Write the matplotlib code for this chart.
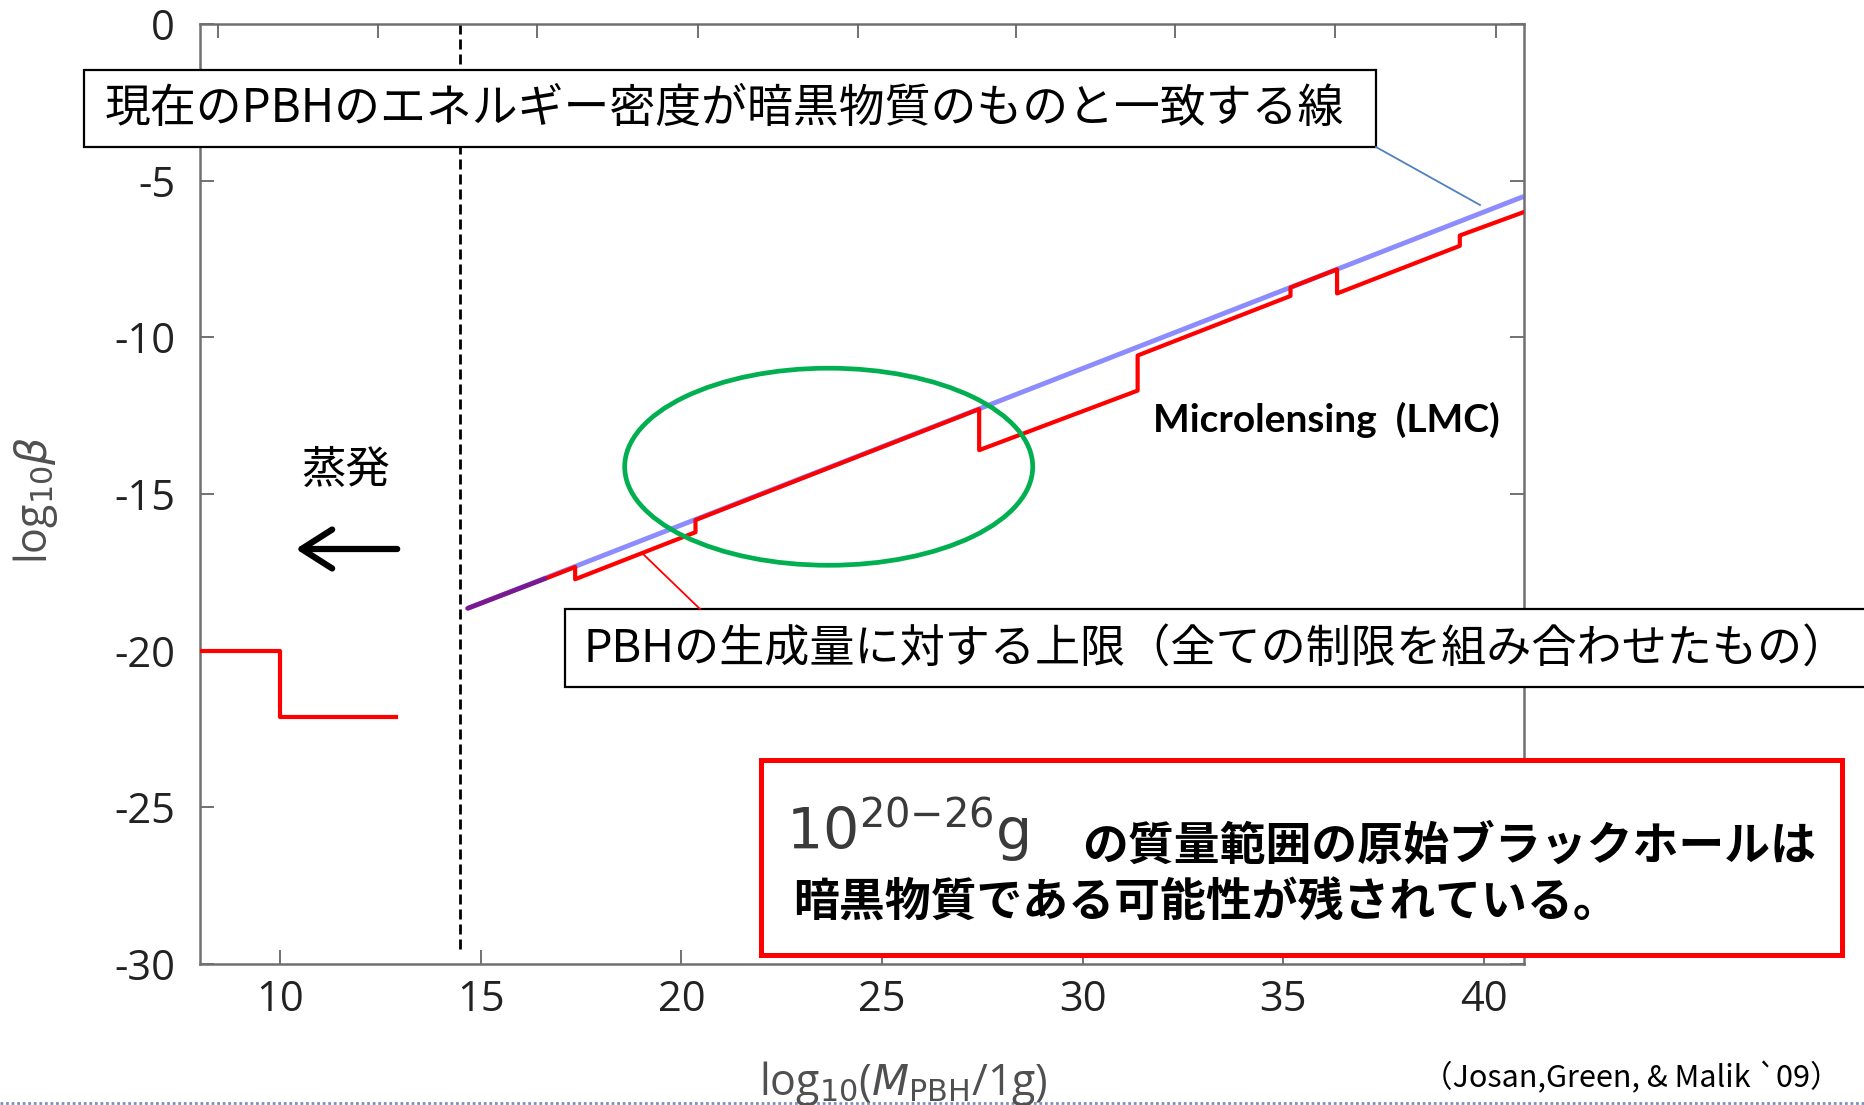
import matplotlib
matplotlib.use("Agg")
import matplotlib.pyplot as plt
from matplotlib.patches import Rectangle, Ellipse, FancyArrowPatch
from matplotlib.lines import Line2D

W, H = 1864, 1105
JP = ['Noto Sans CJK JP', 'DejaVu Sans']

# line where PBH energy density today equals dark matter
dm_mass = [14.67, 41.0]
dm_beta = [-18.65, -5.5]

# combined upper limit on PBH formation (red steps)
limit_mass = [16.65, 17.35, 17.35, 20.35, 20.35, 27.42, 27.42, 31.37, 31.37,
              35.18, 35.18, 36.34, 36.34, 39.40, 39.40, 41.0]
limit_beta = [-17.68, -17.33, -17.72, -16.22, -15.83, -12.29, -13.60, -11.70, -10.58,
              -8.68, -8.41, -7.83, -8.60, -7.08, -6.75, -6.00]

# where both lines overlap (purple)
overlap_mass = [14.67, 16.6]
overlap_beta = [-18.65, -17.70]

# evaporated PBHs (left part)
evap_mass = [8.0, 10.0, 10.0, 12.88]
evap_beta = [-20.0, -20.0, -22.12, -22.12]

evap_limit = 14.49

x_ticks = [10, 15, 20, 25, 30, 35, 40]
y_ticks = [0, -5, -10, -15, -20, -25, -30]
top_ticks = [8.45, 12.43, 16.4, 20.4, 24.4, 28.35, 32.3, 36.3, 40.3]


def fx(px):
    return px / W


def fy(py):
    return 1 - py / H


fig = plt.figure(figsize=(W / 100, H / 100), dpi=100)
ax = fig.add_axes([fx(200), fy(964), fx(1524) - fx(200), fy(24) - fy(964)])

ax.plot(dm_mass, dm_beta, color='#8c8cff', lw=3.5, solid_capstyle='butt', zorder=2)
ax.plot(limit_mass, limit_beta, color='#ff0000', lw=3.0, zorder=3)
ax.plot(overlap_mass, overlap_beta, color='#7a1890', lw=3.4, solid_capstyle='round', zorder=4)
ax.plot(evap_mass, evap_beta, color='#ff0000', lw=3.0, zorder=3)
ax.plot([evap_limit, evap_limit], [0, -29.6], color='black', lw=2.0,
        linestyle=(0, (3.6, 1.8)), zorder=2)

ax.add_patch(Ellipse((23.67, -14.13), 10.17, 6.29, fill=False,
                     edgecolor='#00b050', lw=3.4, zorder=5))

ax.set_xlim(8, 41)
ax.set_ylim(-30, 0)
ax.set_xticks(x_ticks)
ax.set_yticks(y_ticks)
ax.set_xticklabels([str(t) for t in x_ticks], family='Open Sans', fontsize=30, color='#222222')
ax.set_yticklabels([str(t) for t in y_ticks], family='Open Sans', fontsize=30, color='#222222')
ax.tick_params(axis='x', direction='in', length=10, width=1.3, color='#666666', pad=11)
ax.tick_params(axis='y', direction='in', length=10, width=1.3, color='#666666', pad=18,
               right=True)
for s in ax.spines.values():
    s.set_color('#707070')
    s.set_linewidth(1.8)

top = ax.twiny()
top.set_xlim(8, 41)
top.set_xticks(top_ticks)
top.set_xticklabels([])
top.tick_params(axis='x', direction='in', length=10, width=1.3, color='#666666')
for s in top.spines.values():
    s.set_visible(False)

# axis labels
fig.text(fx(36), fy(500), r'log$_{10}\beta$', rotation=90, fontsize=31,
         color='#505050', ha='center', va='center', math_fontfamily='dejavusans',
         family='Open Sans')
fig.text(fx(903), fy(1083), r'log$_{10}$($M_{\mathrm{PBH}}$/1g)', fontsize=31,
         color='#505050', ha='center', va='center', math_fontfamily='dejavusans',
         family='Open Sans')

# box 1
fig.add_artist(Rectangle((fx(84), fy(147)), fx(1376) - fx(84), fy(70) - fy(147),
                         transform=fig.transFigure, facecolor='white', edgecolor='black',
                         lw=1.6, zorder=6))
fig.text(fx(105), fy(109), '現在のPBHのエネルギー密度が暗黒物質のものと一致する線',
         family=JP, fontsize=33, ha='left', va='center', zorder=7)
fig.add_artist(Line2D([fx(1376), fx(1480)], [fy(147), fy(205)], transform=fig.transFigure,
                      color='#4f81bd', lw=1.3, zorder=6))

# box 2
fig.add_artist(Rectangle((fx(565), fy(687)), fx(1880) - fx(565), fy(609) - fy(687),
                         transform=fig.transFigure, facecolor='white', edgecolor='black',
                         lw=1.6, zorder=6))
fig.text(fx(584), fy(649), 'PBHの生成量に対する上限（全ての制限を組み合わせたもの）',
         family=JP, fontsize=32.5, ha='left', va='center', zorder=7)
fig.add_artist(Line2D([fx(642), fx(700)], [fy(553), fy(609)], transform=fig.transFigure,
                      color='#ff0000', lw=1.3, zorder=6))

# box 3 (red border)
fig.add_artist(Rectangle((fx(761), fy(955)), fx(1842) - fx(761), fy(760) - fy(955),
                         transform=fig.transFigure, facecolor='white', edgecolor='#ff0000',
                         lw=3.6, zorder=6))
fig.text(fx(786), fy(850), r'$10^{20{-}26}$g', fontsize=41, color='#3a3a3a',
         math_fontfamily='dejavusans', family='DejaVu Sans', ha='left', va='baseline',
         zorder=7)
fig.text(fx(1082), fy(847), 'の質量範囲の原始ブラックホールは', family=JP, fontsize=33,
         fontweight='bold', ha='left', va='center', zorder=7)
fig.text(fx(793), fy(904), '暗黒物質である可能性が残されている。', family=JP, fontsize=33,
         fontweight='bold', ha='left', va='center', zorder=7)

# other labels
fig.text(fx(1500), fy(420), 'Microlensing  (LMC)', family='Lato', fontweight='bold',
         fontsize=28, ha='right', va='center')
fig.text(fx(346), fy(470), '蒸発', family=JP, fontsize=32, ha='center', va='center')
fig.add_artist(FancyArrowPatch(
    (fx(400), fy(549)), (fx(293), fy(549)), transform=fig.transFigure,
    arrowstyle='->,head_length=1.1,head_width=0.7', lw=4.5, color='black',
    mutation_scale=20))
fig.text(fx(1840), fy(1078), '（Josan,Green, & Malik `09）', family=JP, fontsize=22,
         ha='right', va='center')

fig.add_artist(Line2D([0, 1], [fy(1103), fy(1103)], transform=fig.transFigure,
                      color='#7f8fb5', lw=2, linestyle=(0, (1, 1))))

fig.savefig('out.png', dpi=100)
